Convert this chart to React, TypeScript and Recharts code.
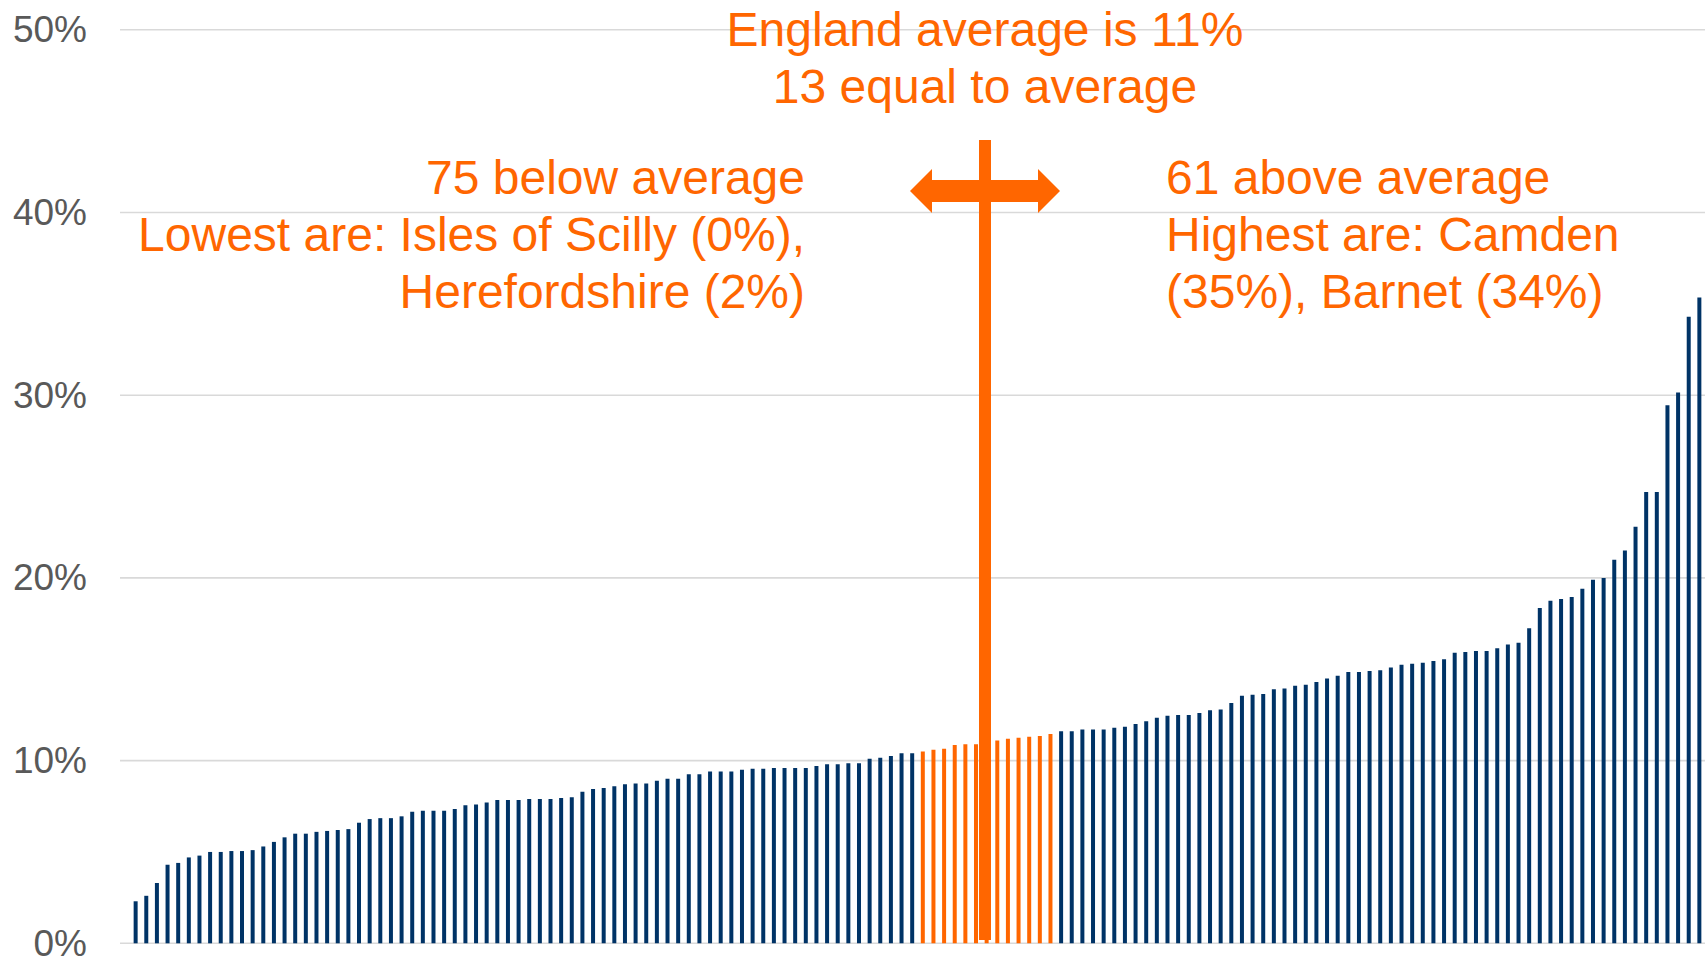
import React from "react";
import { BarChart, Bar, XAxis, YAxis, CartesianGrid, Cell } from "recharts";

const W = 1705;
const H = 959;

// Share (%) for each local authority, sorted ascending (149 areas)
const values: number[] = [
  0, 2.3, 2.6, 3.3, 4.3, 4.4, 4.7, 4.8, 5.0, 5.0,
  5.05, 5.05, 5.1, 5.3, 5.55, 5.8, 6.0, 6.0, 6.1, 6.15,
  6.2, 6.25, 6.6, 6.8, 6.85, 6.85, 6.95, 7.2, 7.25, 7.25,
  7.25, 7.35, 7.55, 7.6, 7.7, 7.85, 7.85, 7.85, 7.9, 7.9,
  7.9, 7.95, 8.0, 8.3, 8.45, 8.5, 8.6, 8.7, 8.75, 8.75,
  8.9, 9.0, 9.0, 9.25, 9.25, 9.4, 9.4, 9.4, 9.5, 9.55,
  9.55, 9.6, 9.6, 9.6, 9.6, 9.7, 9.8, 9.8, 9.85, 9.85,
  10.1, 10.15, 10.25, 10.4, 10.4, 10.5, 10.6, 10.65, 10.85, 10.9,
  10.9, 10.95, 11.1, 11.2, 11.25, 11.3, 11.35, 11.45, 11.6, 11.6,
  11.7, 11.7, 11.7, 11.8, 11.85, 12.0, 12.15, 12.35, 12.45, 12.5,
  12.5, 12.6, 12.75, 12.8, 13.15, 13.55, 13.6, 13.65, 13.9, 13.95,
  14.1, 14.15, 14.3, 14.5, 14.65, 14.85, 14.85, 14.9, 14.95, 15.1,
  15.25, 15.3, 15.35, 15.45, 15.55, 15.9, 15.95, 16.0, 16.0, 16.15,
  16.35, 16.45, 17.25, 18.35, 18.75, 18.85, 18.95, 19.4, 19.9, 20.0,
  21.0, 21.5, 22.8, 24.7, 24.7, 29.45, 30.15, 34.3, 35.35,
];

const belowCount = 75;
const equalCount = 13;
const aboveCount = 61;

const yTicks: number[] = [0, 10, 20, 30, 40, 50];

const annotationTop: string[] = ["England average is 11%", `${equalCount} equal to average`];
const annotationLeft: string[] = [
  `${belowCount} below average`,
  "Lowest are: Isles of Scilly (0%),",
  "Herefordshire (2%)",
];
const annotationRight: string[] = [
  `${aboveCount} above average`,
  "Highest are: Camden",
  "(35%), Barnet (34%)",
];

const NAVY = "#003366";
const ORANGE = "#FF6600";
const FONT = "'Liberation Sans', Arial, Helvetica, sans-serif";

const data = values.map((v, i) => ({ area: `#${i + 1}`, value: v }));

const YTick = (props: any) => {
  const { y, payload } = props;
  return (
    <text
      x={87}
      y={y}
      textAnchor="end"
      dominantBaseline="central"
      fontSize={37}
      fill="#595959"
      fontFamily={FONT}
    >
      {`${payload.value}%`}
    </text>
  );
};

export default function App() {
  const cx = 985;
  const arrowY = 191;
  return (
    <div
      style={{
        position: "absolute",
        left: 0,
        top: 0,
        width: W,
        height: H,
        background: "#ffffff",
        fontFamily: FONT,
        overflow: "hidden",
      }}
    >
      <BarChart
        width={W}
        height={H}
        data={data}
        margin={{ top: 29.8, right: 0, bottom: 15.7, left: 0 }}
        barCategoryGap={0}
      >
        <CartesianGrid vertical={false} stroke="#d9d9d9" strokeWidth={1.6} />
        <XAxis dataKey="area" hide />
        <YAxis
          width={120}
          domain={[0, 50]}
          ticks={yTicks}
          axisLine={false}
          tickLine={false}
          tick={<YTick />}
          interval={0}
        />
        <Bar dataKey="value" barSize={4} isAnimationActive={false}>
          {data.map((d, i) => (
            <Cell
              key={d.area}
              fill={i >= belowCount && i < belowCount + equalCount ? ORANGE : NAVY}
            />
          ))}
        </Bar>
      </BarChart>
      <svg
        width={W}
        height={H}
        style={{ position: "absolute", left: 0, top: 0, pointerEvents: "none" }}
      >
        <rect x={cx - 6} y={140} width={12} height={800} fill={ORANGE} />
        <polygon
          points={[
            [910, arrowY],
            [932, arrowY - 22],
            [932, arrowY - 11],
            [1038, arrowY - 11],
            [1038, arrowY - 22],
            [1060, arrowY],
            [1038, arrowY + 22],
            [1038, arrowY + 11],
            [932, arrowY + 11],
            [932, arrowY + 22],
          ]
            .map((p) => p.join(","))
            .join(" ")}
          fill={ORANGE}
        />
        {annotationTop.map((t, i) => (
          <text
            key={t}
            x={cx}
            y={45.5 + i * 57.5}
            textAnchor="middle"
            fontSize={48}
            fill={ORANGE}
            fontFamily={FONT}
          >
            {t}
          </text>
        ))}
        {annotationLeft.map((t, i) => (
          <text
            key={t}
            x={805}
            y={193.5 + i * 57}
            textAnchor="end"
            fontSize={48}
            fill={ORANGE}
            fontFamily={FONT}
          >
            {t}
          </text>
        ))}
        {annotationRight.map((t, i) => (
          <text
            key={t}
            x={1166}
            y={193.5 + i * 57}
            textAnchor="start"
            fontSize={48}
            fill={ORANGE}
            fontFamily={FONT}
          >
            {t}
          </text>
        ))}
      </svg>
    </div>
  );
}
